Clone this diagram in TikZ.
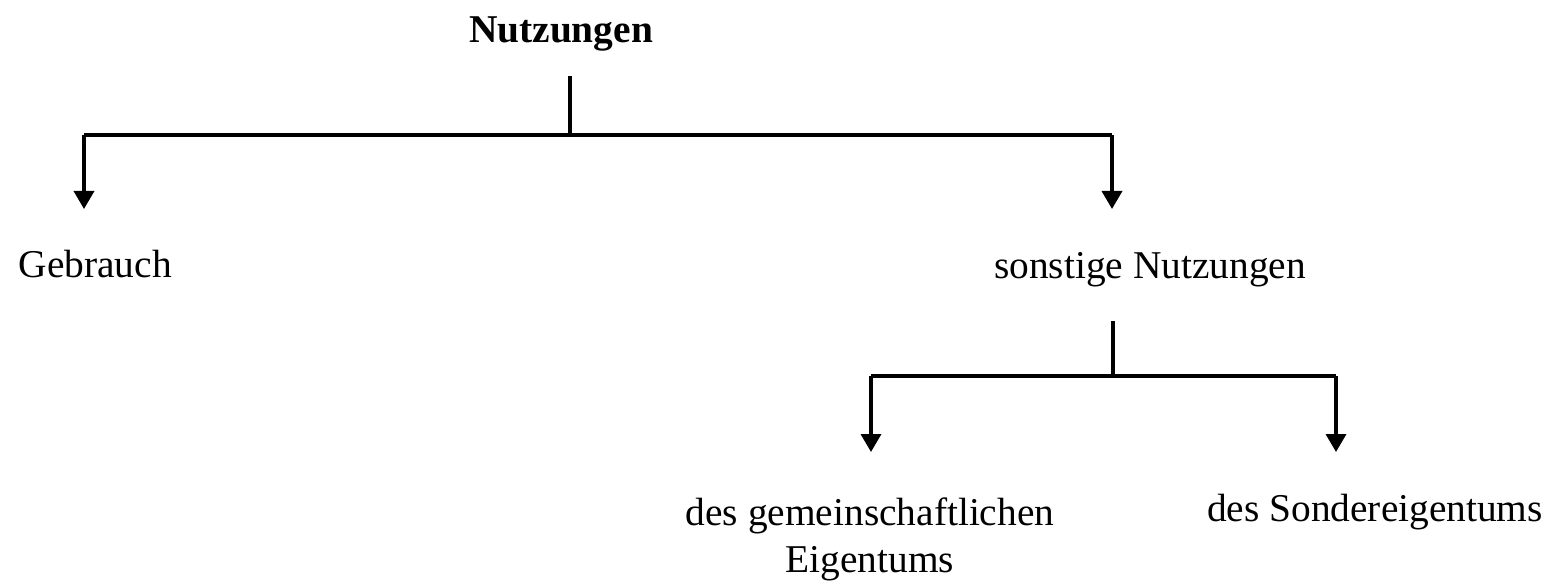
\documentclass[tikz,border=0pt]{standalone}
\usepackage{fontspec}
\setmainfont{Liberation Serif}
\usetikzlibrary{arrows.meta}

\begin{document}
\begin{tikzpicture}[x=0.01cm,y=-0.01cm,line width=1pt]
\tikzstyle{txt}=[inner sep=0,font=\fontsize{11.2}{13.4}\selectfont]
\tikzstyle{arr}=[-{Triangle[length=1.8mm,width=2mm]}]
\useasboundingbox (0,0) rectangle (1560,581);
% nodes
\node[txt,anchor=base,font=\fontsize{11.2}{13.4}\selectfont\bfseries] (nutz) at (561,42) {Nutzungen};
\node[txt,anchor=base west] (gebr) at (17,277) {Gebrauch};
\node[txt,anchor=base] (sonst) at (1150,278) {sonstige Nutzungen};
\node[txt,anchor=north,align=center] (gem) at (870,496) {des gemeinschaftlichen\\Eigentums};
\node[txt,anchor=base] (sond) at (1375,521) {des Sondereigentums};
% junctions
\coordinate (s1) at (570,76);
\coordinate (j1) at (570,135);
\coordinate (l1) at (84,135);
\coordinate (r1) at (1112,135);
\coordinate (a1) at (84,209);
\coordinate (b1) at (1112,209);
\coordinate (s2) at (1113,321);
\coordinate (j2) at (1113,376);
\coordinate (l2) at (871,376);
\coordinate (r2) at (1336,376);
\coordinate (a2) at (871,452);
\coordinate (b2) at (1336,452);
% lines
\draw (s1) -- (j1);
\draw (l1) -- (r1);
\draw[arr] (l1) -- (a1);
\draw[arr] (r1) -- (b1);
\draw (s2) -- (j2);
\draw (l2) -- (r2);
\draw[arr] (l2) -- (a2);
\draw[arr] (r2) -- (b2);
\end{tikzpicture}
\end{document}
